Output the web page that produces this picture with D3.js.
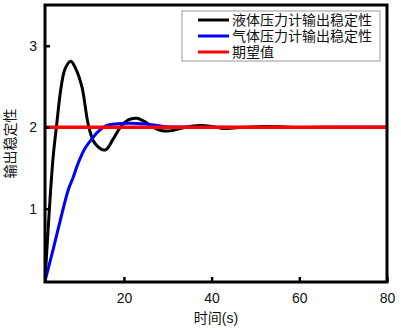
<!DOCTYPE html>
<html>
<head>
<meta charset="utf-8">
<script src="https://cdn.jsdelivr.net/npm/d3@7"></script>
<style>
  body { margin: 0; background: #fff; }
  text { font-family: "Liberation Sans", Arial, "Noto Sans CJK SC", sans-serif; fill: #111; }
</style>
</head>
<body>
<svg id="chart" width="401" height="330"></svg>
<script>
// time axis (s) and the two responses
const liquidT = [2, 3.8, 4.6, 5.7, 6.6, 7.9, 9, 10.4, 12, 13.4, 15.75, 17.5, 19.2, 21, 22.9, 25, 26.6, 28.5, 30.5, 32.5, 34, 37.3, 40, 42.5, 45, 48, 52, 56, 60, 65, 80];
const liquidV = [0.11, 1.6, 2.0, 2.5, 2.72, 2.81, 2.72, 2.5, 2.0, 1.8, 1.72, 1.85, 2.0, 2.09, 2.11, 2.06, 2.0, 1.96, 1.955, 1.98, 2.0, 2.02, 2.01, 1.985, 1.99, 2.0, 2.01, 2.005, 1.995, 2.0, 2.0];
const gasT = [2, 4, 5.5, 7.3, 8.4, 9.5, 11, 12.3, 14, 16, 18, 21, 25, 29, 35, 80];
const gasV = [0.11, 0.53, 0.86, 1.23, 1.38, 1.55, 1.73, 1.83, 1.94, 2.02, 2.04, 2.05, 2.04, 2.01, 2.0, 2.0];
const targetT = [2, 80];
const targetV = [2, 2];

const xTicks = [20, 40, 60, 80];
const yTicks = [1, 2, 3];
const seriesNames = ["液体压力计输出稳定性", "气体压力计输出稳定性", "期望值"];
const seriesColors = ["#000000", "#0000ff", "#ff0000"];

const svg = d3.select("#chart");
const margin = { left: 45, right: 14, top: 5, bottom: 48 };
const width = 401, height = 330;

const x = d3.scaleLinear().domain([2, 80]).range([margin.left, width - margin.right]);
const y = d3.scaleLinear().domain([0.1, 3.5]).range([height - margin.bottom, margin.top]);

const line = d3.line()
    .x(d => x(d[0]))
    .y(d => y(d[1]))
    .curve(d3.curveCatmullRom.alpha(0.5));

const series = [
    d3.zip(liquidT, liquidV),
    d3.zip(gasT, gasV),
    d3.zip(targetT, targetV)
];

const plot = svg.append("g");
plot.append("clipPath").attr("id", "clip")
  .append("rect")
    .attr("x", x.range()[0]).attr("y", y.range()[1])
    .attr("width", x.range()[1] - x.range()[0])
    .attr("height", y.range()[0] - y.range()[1]);

plot.selectAll("path.series")
    .data(series)
    .enter()
    .append("path")
    .attr("class", "series")
    .attr("clip-path", "url(#clip)")
    .attr("d", line)
    .attr("fill", "none")
    .attr("stroke", (d, i) => seriesColors[i])
    .attr("stroke-width", (d, i) => i === 2 ? 3.5 : 3);

// axes with inward ticks
const xAxis = d3.axisBottom(x).tickValues(xTicks).tickSize(-5).tickPadding(11).tickFormat(d3.format("d"));
const yAxis = d3.axisLeft(y).tickValues(yTicks).tickSize(-5).tickPadding(8).tickFormat(d3.format("d"));

const gx = svg.append("g").attr("transform", `translate(0,${y.range()[0]})`).call(xAxis);
const gy = svg.append("g").attr("transform", `translate(${x.range()[0]},0)`).call(yAxis);
[gx, gy].forEach(g => {
    g.select(".domain").remove();
    g.selectAll(".tick line").attr("stroke", "#000").attr("stroke-width", 2.5);
    g.selectAll(".tick text").attr("font-size", 14).style("font-family", "'Liberation Sans', Arial, sans-serif");
});

// frame
svg.append("rect")
    .attr("x", x.range()[0]).attr("y", y.range()[1])
    .attr("width", x.range()[1] - x.range()[0])
    .attr("height", y.range()[0] - y.range()[1])
    .attr("fill", "none")
    .attr("stroke", "#000")
    .attr("stroke-width", 3);

// axis titles
svg.append("text")
    .attr("x", (x.range()[0] + x.range()[1]) / 2)
    .attr("y", 323)
    .attr("text-anchor", "middle")
    .attr("font-size", 14)
    .text("时间(s)");

svg.append("text")
    .attr("transform", `translate(15,${(y.range()[0] + y.range()[1]) / 2}) rotate(-90)`)
    .attr("text-anchor", "middle")
    .attr("font-size", 14)
    .text("输出稳定性");

// legend
const legend = svg.append("g").attr("transform", "translate(182,11)");
legend.append("rect")
    .attr("width", 198).attr("height", 50)
    .attr("fill", "#fff")
    .attr("stroke", "#999")
    .attr("stroke-width", 1);

const rows = legend.selectAll("g.row")
    .data(seriesNames)
    .enter()
    .append("g")
    .attr("class", "row")
    .attr("transform", (d, i) => `translate(0,${9 + i * 16})`);

rows.append("line")
    .attr("x1", 16).attr("x2", 47)
    .attr("stroke", (d, i) => seriesColors[i])
    .attr("stroke-width", 3);

rows.append("text")
    .attr("x", 50)
    .attr("dy", "0.35em")
    .attr("font-size", 14)
    .text(d => d);
</script>
</body>
</html>
